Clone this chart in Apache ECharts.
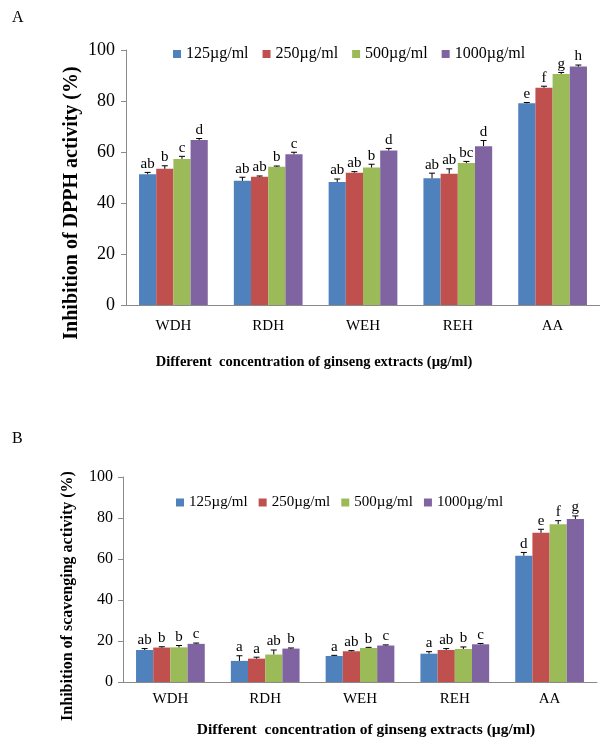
<!DOCTYPE html>
<html>
<head>
<meta charset="utf-8">
<script src="https://cdn.jsdelivr.net/npm/echarts@6/dist/echarts.min.js"></script>
<style>
    body { margin: 0; background: #fff; }
    #main { width: 600px; height: 738px; }
</style>
</head>
<body>
<div id="main"></div>
<script>
    var categories = ['WDH', 'RDH', 'WEH', 'REH', 'AA'];
    var seriesNames = ['125µg/ml', '250µg/ml', '500µg/ml', '1000µg/ml'];
    var colors = ['#4F81BD', '#C0504D', '#9BBB59', '#8064A2'];
    var yTicks = [0, 20, 40, 60, 80, 100];

    // panel A - DPPH
    var dpph125 = [51.3, 48.7, 48.2, 49.7, 79.1];
    var dpph250 = [53.4, 50.3, 51.9, 51.5, 85.2];
    var dpph500 = [57.3, 54.2, 53.9, 55.7, 90.6];
    var dpph1000 = [64.7, 59.1, 60.6, 62.3, 93.5];
    var dpphErr125 = [0.7, 1.4, 1.2, 2.0, 0.3];
    var dpphErr250 = [1.2, 0.3, 0.4, 1.9, 0.6];
    var dpphErr500 = [1.0, 0.3, 1.3, 0.6, 0.6];
    var dpphErr1000 = [0.6, 0.8, 0.8, 2.2, 0.6];
    var dpphLet125 = ['ab', 'ab', 'ab', 'ab', 'e'];
    var dpphLet250 = ['b', 'ab', 'ab', 'ab', 'f'];
    var dpphLet500 = ['c', 'b', 'b', 'bc', 'g'];
    var dpphLet1000 = ['d', 'c', 'd', 'd', 'h'];

    // panel B - scavenging
    var scav125 = [15.6, 10.3, 12.7, 13.8, 61.6];
    var scav250 = [16.8, 11.4, 15.0, 15.6, 72.8];
    var scav500 = [16.9, 13.4, 16.6, 16.1, 77.0];
    var scav1000 = [18.6, 16.3, 17.8, 18.4, 79.5];
    var scavErr125 = [0.7, 2.5, 0.3, 1.0, 1.6];
    var scavErr250 = [0.4, 0.7, 0.3, 0.7, 1.7];
    var scavErr500 = [0.9, 2.2, 0.3, 1.0, 1.7];
    var scavErr1000 = [0.4, 0.3, 0.3, 0.4, 1.5];
    var scavLet125 = ['ab', 'a', 'a', 'a', 'd'];
    var scavLet250 = ['b', 'a', 'ab', 'ab', 'e'];
    var scavLet500 = ['b', 'ab', 'b', 'b', 'f'];
    var scavLet1000 = ['c', 'b', 'c', 'c', 'g'];

    var serif = '"Liberation Serif", "Times New Roman", serif';
    var catGap = 0.275;

    function errItem(vals, errs, letters, k) {
        return function (params, api) {
            var i = params.dataIndex;
            var band = api.size([1, 0])[0];
            var w = band * (1 - catGap) / 4;
            var cx = api.coord([i, 0])[0] + (k - 1.5) * w;
            var top = api.coord([i, vals[i]])[1];
            var hi = api.coord([i, vals[i] + errs[i]])[1];
            return {
                type: 'group',
                children: [
                    {type: 'line', shape: {x1: cx, y1: top, x2: cx, y2: hi}, style: {stroke: '#000', lineWidth: 1}},
                    {type: 'line', shape: {x1: cx - 3, y1: hi, x2: cx + 3, y2: hi}, style: {stroke: '#000', lineWidth: 1}},
                    {type: 'text', x: cx, y: hi - 1, style: {text: letters[i], fill: '#000', font: '15px ' + serif, align: 'center', verticalAlign: 'bottom'}}
                ]
            };
        };
    }

    function panelSeries(valsList, errList, letList, idx) {
        var out = [];
        for (var k = 0; k < 4; k++) {
            out.push({
                name: seriesNames[k],
                type: 'bar',
                xAxisIndex: idx,
                yAxisIndex: idx,
                barGap: '0%',
                barCategoryGap: (catGap * 100) + '%',
                itemStyle: {color: colors[k]},
                data: valsList[k]
            });
        }
        for (var k = 0; k < 4; k++) {
            out.push({
                type: 'custom',
                xAxisIndex: idx,
                yAxisIndex: idx,
                z: 5,
                renderItem: errItem(valsList[k], errList[k], letList[k], k),
                data: valsList[k].map(function (v, i) { return [i, v]; }),
                encode: {x: 0, y: 1}
            });
        }
        return out;
    }

    function xAx(idx, margin, size) {
        return {
            type: 'category', gridIndex: idx, data: categories,
            axisLine: {lineStyle: {color: '#8a8a8a'}},
            axisTick: {length: 5, lineStyle: {color: '#8a8a8a'}},
            axisLabel: {color: '#000', fontFamily: serif, fontSize: size, margin: margin}
        };
    }
    function yAx(idx, size, margin) {
        return {
            type: 'value', gridIndex: idx, min: yTicks[0], max: yTicks[yTicks.length - 1], interval: 20,
            axisLine: {show: true, lineStyle: {color: '#8a8a8a'}},
            axisTick: {show: true, length: 5, lineStyle: {color: '#8a8a8a'}},
            splitLine: {show: false},
            axisLabel: {color: '#000', fontFamily: serif, fontSize: size, margin: margin}
        };
    }

    var chart = echarts.init(document.getElementById('main'));
    var series = panelSeries([dpph125, dpph250, dpph500, dpph1000],
        [dpphErr125, dpphErr250, dpphErr500, dpphErr1000],
        [dpphLet125, dpphLet250, dpphLet500, dpphLet1000], 0)
        .concat(panelSeries([scav125, scav250, scav500, scav1000],
            [scavErr125, scavErr250, scavErr500, scavErr1000],
            [scavLet125, scavLet250, scavLet500, scavLet1000], 1));

    chart.setOption({
        animation: false,
        grid: [
            {left: 126, top: 50, width: 482, height: 255},
            {left: 123, top: 477, width: 474, height: 205}
        ],
        legend: [
            {left: 173, top: 46, padding: 0, itemWidth: 8, itemHeight: 8, itemGap: 14, icon: 'rect',
                data: seriesNames, textStyle: {fontFamily: serif, fontSize: 16, color: '#000'}},
            {left: 176, top: 495, padding: 0, itemWidth: 8, itemHeight: 8, itemGap: 11, icon: 'rect',
                data: seriesNames, textStyle: {fontFamily: serif, fontSize: 15, color: '#000'}}
        ],
        xAxis: [xAx(0, 14, 15), xAx(1, 10, 15)],
        yAxis: [yAx(0, 18, 11), yAx(1, 16, 10)],
        series: series,
        graphic: [
            {type: 'text', left: 12, top: 10, style: {text: 'A', font: '16px ' + serif, fill: '#000'}},
            {type: 'text', left: 12, top: 431, style: {text: 'B', font: '16px ' + serif, fill: '#000'}},
            {type: 'text', x: 72, y: 203, rotation: Math.PI / 2,
                style: {text: 'Inhibition of DPPH activity (%)', font: 'bold 20px ' + serif, fill: '#000', align: 'center', verticalAlign: 'middle'}},
            {type: 'text', x: 68, y: 596, rotation: Math.PI / 2,
                style: {text: 'Inhibition of scavenging activity (%)', font: 'bold 16px ' + serif, fill: '#000', align: 'center', verticalAlign: 'middle'}},
            {type: 'text', x: 314, y: 362,
                style: {text: 'Different  concentration of ginseng extracts (µg/ml)', font: 'bold 14.5px ' + serif, fill: '#000', align: 'center', verticalAlign: 'middle'}},
            {type: 'text', x: 366, y: 730,
                style: {text: 'Different  concentration of ginseng extracts (µg/ml)', font: 'bold 15.5px ' + serif, fill: '#000', align: 'center', verticalAlign: 'middle'}}
        ]
    });
</script>
</body>
</html>
